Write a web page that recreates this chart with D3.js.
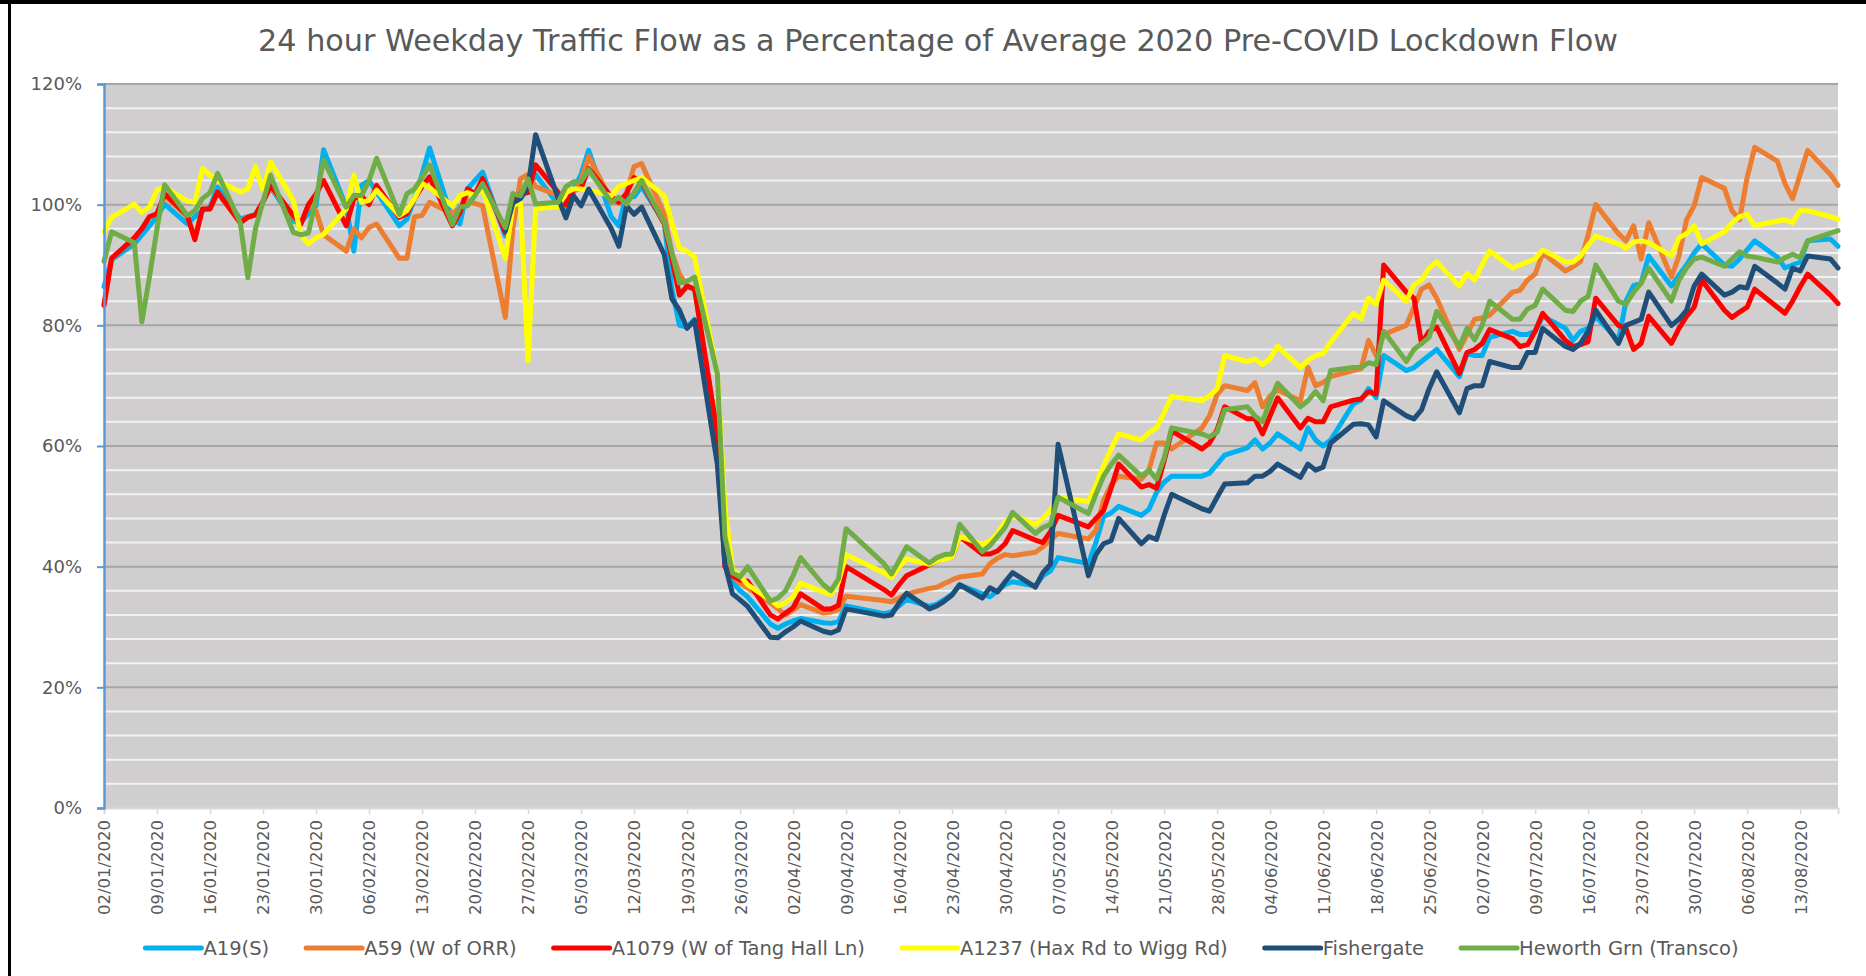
<!DOCTYPE html>
<html>
<head>
<meta charset="utf-8">
<script src="https://cdn.jsdelivr.net/npm/d3@7"></script>
<style>
  body { margin: 0; background: #fff; }
  svg { display: block; }
  text { font-family: "DejaVu Sans", sans-serif; fill: #595959; }
</style>
</head>
<body>
<svg id="chart" width="1866" height="976"></svg>
<script>
/**************************
 * Data
 **************************/
// weekdays only; the bank holidays (10/04, 13/04, 08/05, 25/05) have no counts
var dates = [
  "02/01/2020","03/01/2020",
  "06/01/2020","07/01/2020","08/01/2020","09/01/2020","10/01/2020",
  "13/01/2020","14/01/2020","15/01/2020","16/01/2020","17/01/2020",
  "20/01/2020","21/01/2020","22/01/2020","23/01/2020","24/01/2020",
  "27/01/2020","28/01/2020","29/01/2020","30/01/2020","31/01/2020",
  "03/02/2020","04/02/2020","05/02/2020","06/02/2020","07/02/2020",
  "10/02/2020","11/02/2020","12/02/2020","13/02/2020","14/02/2020",
  "17/02/2020","18/02/2020","19/02/2020","20/02/2020","21/02/2020",
  "24/02/2020","25/02/2020","26/02/2020","27/02/2020","28/02/2020",
  "02/03/2020","03/03/2020","04/03/2020","05/03/2020","06/03/2020",
  "09/03/2020","10/03/2020","11/03/2020","12/03/2020","13/03/2020",
  "16/03/2020","17/03/2020","18/03/2020","19/03/2020","20/03/2020",
  "23/03/2020","24/03/2020","25/03/2020","26/03/2020","27/03/2020",
  "30/03/2020","31/03/2020","01/04/2020","02/04/2020","03/04/2020",
  "06/04/2020","07/04/2020","08/04/2020","09/04/2020",
  "14/04/2020","15/04/2020","16/04/2020","17/04/2020",
  "20/04/2020","21/04/2020","22/04/2020","23/04/2020","24/04/2020",
  "27/04/2020","28/04/2020","29/04/2020","30/04/2020","01/05/2020",
  "04/05/2020","05/05/2020","06/05/2020","07/05/2020",
  "11/05/2020","12/05/2020","13/05/2020","14/05/2020","15/05/2020",
  "18/05/2020","19/05/2020","20/05/2020","21/05/2020","22/05/2020",
  "26/05/2020","27/05/2020","28/05/2020","29/05/2020",
  "01/06/2020","02/06/2020","03/06/2020","04/06/2020","05/06/2020",
  "08/06/2020","09/06/2020","10/06/2020","11/06/2020","12/06/2020",
  "15/06/2020","16/06/2020","17/06/2020","18/06/2020","19/06/2020",
  "22/06/2020","23/06/2020","24/06/2020","25/06/2020","26/06/2020",
  "29/06/2020","30/06/2020","01/07/2020","02/07/2020","03/07/2020",
  "06/07/2020","07/07/2020","08/07/2020","09/07/2020","10/07/2020",
  "13/07/2020","14/07/2020","15/07/2020","16/07/2020","17/07/2020",
  "20/07/2020","21/07/2020","22/07/2020","23/07/2020","24/07/2020",
  "27/07/2020","28/07/2020","29/07/2020","30/07/2020","31/07/2020",
  "03/08/2020","04/08/2020","05/08/2020","06/08/2020","07/08/2020",
  "10/08/2020","11/08/2020","12/08/2020","13/08/2020","14/08/2020",
  "17/08/2020","18/08/2020"
];

// % of average pre-lockdown flow, one row per week
var a19 = [
  86.4, 90.9,
  93.5, 95, 96.5, 98, 100.1,
  96.8, 98, 99, 99.6, 102.9,
  97.6, 98, 98.4, 100.5, 102.9,
  97.3, 97, 98.5, 99.8, 109.1,
  99.6, 92.3, 103.2, 104, 102.1,
  96.5, 97.6, 101, 105, 109.4,
  97.6, 96.8, 102.6, 104, 105.4,
  94.8, 101.8, 101.5, 102.6, 105,
  100, 99.5, 102.5, 105, 109,
  98, 96.5, 101.8, 101.3, 103,
  97, 86, 80, 79.7, 81,
  60, 42, 37.5, 36, 35,
  30.5, 29.8, 30.5, 31, 31.4,
  30.7, 30.6, 30.9, 33.5,
  32.2, 32.5, 33.5, 34.6,
  33.4, 33.8, 34.6, 35.4, 37,
  35.5, 35, 36, 37, 37.5,
  36.8, 38.5, 39.3, 41.5,
  40.5, 44, 48.3, 48.9, 50,
  48.5, 49.5, 52.3, 54, 55,
  55, 55.5, 57, 58.5,
  59.7, 61, 59.5, 60.5, 62,
  59.5, 63, 61, 60, 61,
  67, 67.6, 69.5, 68, 75,
  72.5, 73, 74, 75, 76,
  71.5, 75.3, 75, 75, 78,
  79, 78.5, 78.5, 79, 81.5,
  79.5, 77.5, 79, 79.5, 81.5,
  77.5, 84, 86.6, 87, 91.5,
  86.5, 88.3, 90, 92, 93.5,
  90, 89.8, 91, 92.5, 94,
  91.3, 89.5, 90, 90.5, 94,
  94.3, 93.1
];

var a59 = [
  83.5, 91,
  94.5, 96, 98, 98.5, 101.5,
  98, 94.5, 99.3, 99.3, 102,
  97, 98, 98.3, 100.5, 103,
  98, 96.8, 100, 99, 95,
  92.3, 96, 94.5, 96.2, 96.8,
  91.1, 91.1, 98, 98.2, 100.4,
  98.5, 99.5, 100.7, 100.2, 99.8,
  81.3, 96, 104.3, 105, 103,
  101.5, 100, 102, 104, 108,
  100.7, 100.2, 102, 106.3, 106.8,
  98.4, 92, 88.5, 86.5, 86,
  62, 42, 38.5, 37.3, 36.5,
  34, 33, 32, 32.8, 33.7,
  32.3, 32.5, 32.9, 35.1,
  34.4, 34.2, 34.8, 35.5,
  36.4, 36.6, 37.2, 37.8, 38.3,
  38.8, 40.5, 41.4, 42, 41.8,
  42.4, 43.3, 44.5, 45.5,
  44.6, 46, 51, 53.5, 55,
  54.5, 56, 60.5, 60.5, 59.5,
  63, 65, 68.5, 70,
  69.2, 70.5, 66.5, 68.3, 69.3,
  67.5, 73, 70, 70.5, 71.5,
  72.5, 72.8, 77.5, 75, 78.5,
  80, 83, 86, 86.7, 84.5,
  76, 78.5, 81, 81.2, 81.7,
  85.5, 85.8, 87.5, 88.5, 92,
  89, 89.7, 90.6, 95, 100,
  95.2, 94, 96.5, 91, 97,
  88, 91.5, 97.5, 99.8, 104.5,
  102.7, 99, 97.5, 104.5, 109.5,
  107.2, 103.5, 101, 105, 109,
  105, 103.2
];

var a1079 = [
  83.3, 91.1,
  94.5, 96, 98, 98.5, 101.8,
  98.2, 94.2, 99.3, 99.3, 102.1,
  97, 97.9, 98.3, 100.5, 103.2,
  98.2, 96.8, 100, 101.8, 104,
  96.5, 101, 101.5, 100, 103.2,
  97.9, 98.5, 101, 103, 104.6,
  96.5, 98.7, 102.6, 101.8, 104.3,
  95.4, 100.5, 101.8, 102, 106.6,
  102, 100, 102.4, 102.7, 106,
  101.3, 100.4, 101.8, 104.5, 103.7,
  96.8, 91, 85, 86.5, 86,
  62, 40, 38.5, 37.8, 37.6,
  32, 31.3, 32.3, 33.2, 35.5,
  33, 33, 33.6, 40,
  36.2, 35.3, 37, 38.5,
  40.3, 41, 41.3, 41.6, 45,
  42.1, 42.1, 42.6, 43.8, 46,
  44.4, 44, 45.8, 48.5,
  46.6, 48, 49.3, 53, 57,
  53.2, 53.6, 53, 57.5, 62.5,
  59.5, 60.5, 62.7, 66.5,
  64.5, 64.5, 62, 65, 68,
  63, 64.6, 64, 64, 66.5,
  67.6, 67.8, 69, 68.6, 90,
  85.5, 84.5, 77, 79, 79.7,
  72, 75.5, 76, 77, 79.3,
  77.8, 76.5, 76.8, 79, 82,
  77.5, 76.5, 76.8, 77.3, 84.5,
  80, 79.5, 76, 77, 81.5,
  77, 79.5, 81.5, 83, 87.5,
  82.5, 81.3, 82.2, 83, 86,
  83, 82, 84, 86.4, 88.5,
  85, 83.6
];

var a1237 = [
  95.5, 97.9,
  100.1, 98.7, 99.6, 102.4, 102.9,
  100.6, 100.4, 106, 104.9, 104,
  102.1, 102.6, 106.3, 102.4, 107.1,
  100.7, 95, 93.5, 94.5, 95.1,
  99.3, 104.9, 100.4, 100.7, 102.4,
  98.2, 99, 101, 103.5, 102.8,
  99.8, 101.5, 102, 101.5, 102.6,
  91.1, 99.8, 100.4, 74.1, 99.3,
  99.7, 102, 102.6, 102.6, 102.4,
  101.5, 103, 103.5, 104, 104.5,
  101.5, 97, 92.8, 92.3, 91.3,
  72, 50, 39.5, 38.5, 37,
  34.5, 33.5, 34, 35, 37.3,
  35.8, 35.4, 37.5, 42,
  39, 38.2, 40, 41.3,
  40.4, 41, 41.2, 41.6, 45,
  43.7, 44.3, 45.5, 47.5, 48.5,
  47, 48, 49.4, 51.5,
  50.8, 53.5, 56.7, 59.5, 62,
  61, 62.2, 63, 65.5, 68.2,
  67.5, 68.3, 69.5, 75,
  74, 74.4, 73.5, 74.5, 76.5,
  73, 74.2, 75, 75.3, 77.2,
  82, 81.1, 84.5, 83.5, 87.5,
  84, 86.7, 87.5, 89.5, 90.5,
  86.5, 88.6, 87.5, 90, 92.3,
  89.5, 90, 90.5, 91, 92.5,
  90.5, 90.5, 91.5, 93.3, 94.8,
  93.5, 92.8, 93.8, 94, 93.7,
  91.5, 94.5, 95.2, 96.5, 93.5,
  95.5, 97, 98, 98.4, 96.5,
  97.3, 97.5, 97, 99, 99,
  98, 97.6
];

// Fishergate counts only start on 24/02
var fishergate = [
  null, null,
  null, null, null, null, null,
  null, null, null, null, null,
  null, null, null, null, null,
  null, null, null, null, null,
  null, null, null, null, null,
  null, null, null, null, null,
  null, null, null, null, null,
  95.6, 100.3, 101, 103, 111.6,
  101, 97.8, 101.5, 99.8, 102.6,
  96, 93.1, 99.8, 98.4, 99.6,
  91.7, 84.4, 82.5, 79.5, 80.8,
  57, 40.4, 35.5, 34.5, 33.4,
  28.3, 28.2, 29.2, 30, 31,
  29.3, 29, 29.5, 33,
  31.8, 32, 34, 35.6,
  33, 33.5, 34.3, 35.3, 37,
  34.8, 36.5, 35.8, 37.5, 39,
  36.6, 39, 40.4, 60.3,
  38.5, 42, 43.8, 44.3, 48,
  43.8, 45, 44.5, 48.5, 52,
  49.6, 49.2, 51.5, 53.7,
  53.9, 55, 55, 55.8, 57,
  54.8, 57, 56, 56.5, 60.5,
  63.6, 63.7, 63.5, 61.5, 67.5,
  65, 64.5, 66, 69.5, 72.3,
  65.5, 69.5, 70, 70, 74,
  73, 73, 75.5, 75.5, 79.5,
  76.5, 76, 77, 79, 82.5,
  77, 80, 80.5, 81, 85.5,
  80, 81, 82.5, 86.5, 88.5,
  85, 85.5, 86.4, 86.2, 89.8,
  87, 86, 89.5, 89, 91.5,
  91, 89.5
];

var heworth = [
  90.6, 95.5,
  93.7, 80.6, 88, 96, 103.3,
  98.2, 99, 101, 102, 105.2,
  97, 87.9, 96, 100.5, 104.9,
  95.4, 95, 95.3, 101, 107.4,
  99.6, 101.5, 101.5, 104, 107.7,
  98.4, 101.8, 102.6, 104.5, 106.6,
  96.7, 99.6, 99.8, 101.5, 103.5,
  96.2, 101.8, 101.5, 104.3, 100.1,
  100.4, 103, 103.8, 103.8, 105.8,
  100.4, 101.2, 100.1, 102, 104,
  97, 92, 87, 87.3, 88,
  72, 45, 39, 38.3, 40,
  34.3, 34.8, 36, 38.5, 41.5,
  37, 36, 38, 46.3,
  40.5, 38.8, 41, 43.3,
  40.6, 41.5, 42, 42.1, 47,
  42.5, 43.5, 45, 46.5, 49,
  45.5, 46.5, 47, 51.5,
  48.8, 52, 55, 56.9, 58.5,
  55, 56, 54.5, 58, 63,
  62, 61.5, 62.3, 66,
  66.5, 65, 64, 67.5, 70.4,
  66.5, 67.5, 69, 67.5, 72.5,
  73, 73, 73.8, 73.5, 79,
  74, 76, 77, 78, 82.3,
  76.5, 79.5, 77.6, 80, 84,
  81, 81, 82.7, 83.3, 86,
  82.5, 82.3, 84, 84.8, 90,
  84, 83.5, 85.5, 87, 89.5,
  84, 87.5, 89.5, 91, 91.3,
  89.8, 91, 92.2, 91.5, 91.3,
  90.5, 91.2, 91.8, 91.2, 94,
  95.3, 95.7
];

var seriesNames = ["A19(S)", "A59 (W of ORR)", "A1079 (W of Tang Hall Ln)",
  "A1237 (Hax Rd to Wigg Rd)", "Fishergate", "Heworth Grn (Transco)"];
var seriesValues = [a19, a59, a1079, a1237, fishergate, heworth];
var seriesColors = ["#00B0F0", "#ED7D31", "#FF0000", "#FFFF00", "#1F4E79", "#70AD47"];

var tickLabels = [
  "02/01/2020","09/01/2020","16/01/2020","23/01/2020","30/01/2020",
  "06/02/2020","13/02/2020","20/02/2020","27/02/2020","05/03/2020",
  "12/03/2020","19/03/2020","26/03/2020","02/04/2020","09/04/2020",
  "16/04/2020","23/04/2020","30/04/2020","07/05/2020","14/05/2020",
  "21/05/2020","28/05/2020","04/06/2020","11/06/2020","18/06/2020",
  "25/06/2020","02/07/2020","09/07/2020","16/07/2020","23/07/2020",
  "30/07/2020","06/08/2020","13/08/2020"
];
var yMajor = [0, 20, 40, 60, 80, 100, 120];
var yMinor = [4, 8, 12, 16, 24, 28, 32, 36, 44, 48, 52, 56, 64, 68, 72, 76,
  84, 88, 92, 96, 104, 108, 112, 116];

var chartTitle = "24 hour Weekday Traffic Flow as a Percentage of Average 2020 Pre-COVID Lockdown Flow";

/**************************
 * Layout
 **************************/
var svg = d3.select("#chart");
var plot = { left: 104, right: 1838, top: 84, bottom: 808 };
var parseDate = d3.timeParse("%d/%m/%Y");
var days = dates.map(parseDate);

var x = d3.scaleTime()
  .domain([days[0], days[days.length - 1]])
  .range([plot.left, plot.right]);
var y = d3.scaleLinear().domain([0, 120]).range([plot.bottom, plot.top]);

// frame of the screenshot (top and left edges only)
svg.append("rect").attr("x", 0).attr("y", 0).attr("width", 1866).attr("height", 4).attr("fill", "#000");
svg.append("rect").attr("x", 8).attr("y", 0).attr("width", 3).attr("height", 976).attr("fill", "#000");

// title, stretched to the width it has in the original
var title = svg.append("text")
  .attr("x", 938).attr("y", 51)
  .attr("text-anchor", "middle")
  .style("font-size", "30px")
  .text(chartTitle);
var tw = title.node().getComputedTextLength();
title.style("font-size", (30 * 1360 / tw).toFixed(2) + "px");

// plot area and gridlines
svg.append("rect")
  .attr("x", plot.left).attr("y", plot.top)
  .attr("width", plot.right - plot.left).attr("height", plot.bottom - plot.top)
  .attr("fill", "#D0CECE");

svg.append("g").selectAll("line").data(yMinor).enter().append("line")
  .attr("x1", plot.left).attr("x2", plot.right)
  .attr("y1", function(d) { return y(d); }).attr("y2", function(d) { return y(d); })
  .attr("stroke", "#F2F2F2").attr("stroke-width", 2);

svg.append("g").selectAll("line").data(yMajor.slice(1)).enter().append("line")
  .attr("x1", plot.left).attr("x2", plot.right)
  .attr("y1", function(d) { return y(d); }).attr("y2", function(d) { return y(d); })
  .attr("stroke", "#A6A6A6").attr("stroke-width", 2);

/**************************
 * Lines
 **************************/
var line = d3.line()
  .defined(function(d) { return d.v !== null; })
  .x(function(d) { return x(d.t); })
  .y(function(d) { return y(d.v); });

seriesValues.forEach(function(vals, i) {
  var pts = days.map(function(t, j) { return { t: t, v: vals[j] }; });
  svg.append("path")
    .datum(pts)
    .attr("d", line)
    .attr("fill", "none")
    .attr("stroke", seriesColors[i])
    .attr("stroke-width", 5)
    .attr("stroke-linejoin", "round")
    .attr("stroke-linecap", "round");
});

/**************************
 * Axes
 **************************/
var xAxis = d3.axisBottom(x)
  .tickValues(tickLabels.map(parseDate))
  .tickSize(6)
  .tickFormat(d3.timeFormat("%d/%m/%Y"));

var gx = svg.append("g").attr("transform", "translate(0," + plot.bottom + ")").call(xAxis);
gx.select(".domain").attr("stroke", "#D9D9D9").attr("stroke-width", 2);
gx.selectAll(".tick line").attr("stroke", "#D9D9D9").attr("stroke-width", 1.5);
gx.selectAll(".tick text")
  .attr("transform", "rotate(-90)")
  .attr("x", -12).attr("y", 0).attr("dy", "0.36em")
  .attr("text-anchor", "end")
  .style("font-size", "16.5px").style("font-family", "DejaVu Sans").attr("fill", "#595959");

var yAxis = d3.axisLeft(y)
  .tickValues(yMajor)
  .tickSize(7)
  .tickFormat(function(d) { return d + "%"; });

var gy = svg.append("g").attr("transform", "translate(" + plot.left + ",0)").call(yAxis);
gy.select(".domain").attr("stroke", "#5B9BD5").attr("stroke-width", 2.5);
gy.selectAll(".tick line").attr("stroke", "#5B9BD5").attr("stroke-width", 2);
gy.selectAll(".tick text")
  .attr("x", -22)
  .style("font-size", "18px").style("font-family", "DejaVu Sans").attr("fill", "#595959");

/**************************
 * Legend
 **************************/
var legend = svg.append("g");
var lx = 0, legY = 948;
seriesNames.forEach(function(name, i) {
  var item = legend.append("g").attr("transform", "translate(" + lx + ",0)");
  item.append("line")
    .attr("x1", 0).attr("x2", 56).attr("y1", legY).attr("y2", legY)
    .attr("stroke", seriesColors[i]).attr("stroke-width", 5).attr("stroke-linecap", "round");
  var t = item.append("text")
    .attr("x", 58).attr("y", legY).attr("dy", "0.36em")
    .style("font-size", "19.5px")
    .text(name);
  lx += 58 + t.node().getComputedTextLength() + 37;
});
legend.attr("transform", "translate(" + (942 - (lx - 37) / 2) + ",0)");
</script>
</body>
</html>
